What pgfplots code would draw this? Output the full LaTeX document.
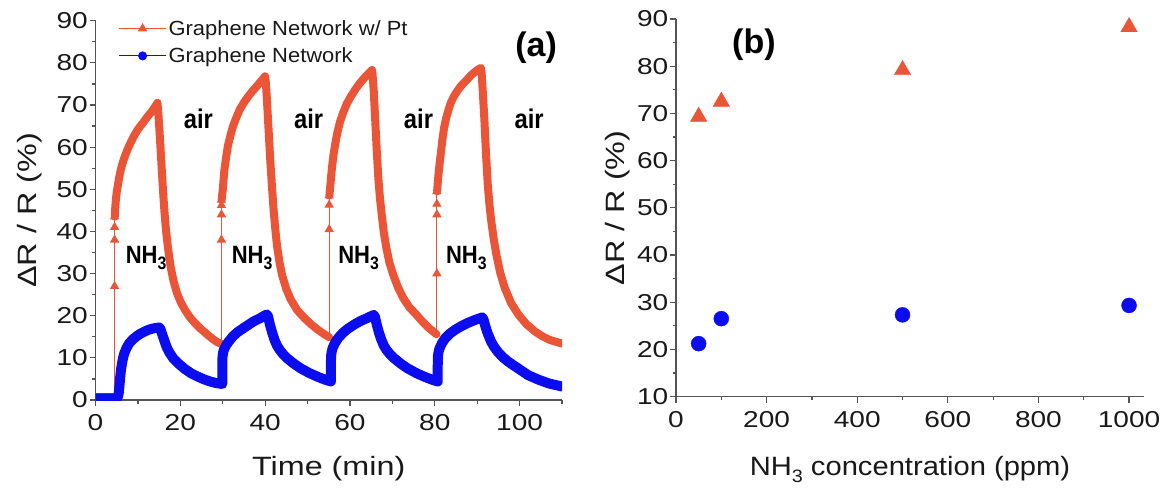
\documentclass[border=0pt]{standalone}
\usepackage{fontspec}
\setmainfont{Liberation Sans}[FakeStretch=1.22]
\newfontfamily\legfont{Liberation Sans}[FakeStretch=1.07]
\newfontfamily\labfont{Liberation Sans}[FakeStretch=0.88]
\newfontfamily\xlfont{Liberation Sans}[FakeStretch=1.1]
\newfontfamily\panfont{Liberation Sans}
\usepackage{graphicx}
\usepackage{pgfplots}
\pgfplotsset{compat=1.18}
\definecolor{redc}{RGB}{235,85,55}
\definecolor{bluec}{RGB}{12,12,240}
\definecolor{axc}{RGB}{85,85,85}
\definecolor{txc}{RGB}{25,25,25}
\newcommand{\nhsub}{NH\raisebox{-6pt}{\fontsize{18}{18}\selectfont 3}}

\pgfplotsset{
 mystyle/.style={
  scale only axis,
  axis lines=left,
  axis line style={-, axc, line width=1.3pt},
  tick style={axc, line width=1.2pt},
  major tick length=6pt,
  minor tick length=3.5pt,
  tick align=outside,
  tick label style={font=\fontsize{23}{23}\selectfont, text=txc, inner sep=1.5pt},
  xticklabel style={yshift=-7pt},
  /pgf/number format/assume math mode=true,
  /pgf/number format/1000 sep={},
  label style={font=\fontsize{26.5}{26.5}\selectfont, text=txc},
 }
}

\begin{document}
\begin{tikzpicture}
\path[use as bounding box] (0,0) rectangle (1164pt,490pt);

% ---------------- panel (a) ----------------
\begin{axis}[mystyle,
  at={(95.5pt,90pt)}, anchor=south west,
  width=466.5pt, height=379.3pt,
  xmin=0, xmax=110, ymin=0, ymax=90,
  xtick={0,20,...,100}, minor xtick={10,30,...,110},
  ytick={0,10,...,90}, minor ytick={5,15,...,85},
  xlabel={Time (min)},
  ylabel={ΔR / R (\%)},
  xlabel style={at={(axis description cs:0.5,0)}, anchor=base, yshift=-75pt},
  ylabel style={at={(axis description cs:-0.1275,0.5)}, anchor=base},
  legend style={at={(axis cs:5.4,90.6)}, anchor=north west, draw=none, fill=none,
    font=\legfont\fontsize{20.5}{20.5}\selectfont, text=txc, inner sep=0pt, row sep=7pt},
  legend cell align=left,
  legend image code/.code={\draw[mark repeat=2,mark phase=2,#1] plot coordinates {(0pt,0pt) (23.5pt,0pt) (47pt,0pt)};},
]
\addlegendimage{redc, line width=1pt, mark=triangle*, mark size=4.5pt}
\addlegendentry{Graphene Network w/ Pt}
\addlegendimage{bluec, line width=1pt, mark=*, mark size=4pt}
\addlegendentry{Graphene Network}

% red baseline
\addplot[redc, line width=2.5pt, forget plot] coordinates {(0,1.3) (4.5,1.3)};
% red jumps (thin line with triangle marks)
\addplot[redc, line width=0.9pt, mark=triangle*, mark size=4.5pt, mark indices={2,3,4,5}, forget plot]
  coordinates {(4.5,1.3) (4.5,27) (4.5,38) (4.5,41) (4.5,43.5)};
\addplot[redc, line width=0.9pt, mark=triangle*, mark size=4.5pt, mark indices={2,3,4,5}, forget plot]
  coordinates {(29.7,13.3) (29.7,38) (29.7,44) (29.7,46.2) (29.7,47.5)};
\addplot[redc, line width=0.9pt, mark=triangle*, mark size=4.5pt, mark indices={2,3,4}, forget plot]
  coordinates {(55.1,14.9) (55.1,40.5) (55.1,46.3) (55.1,48.5)};
\addplot[redc, line width=0.9pt, mark=triangle*, mark size=4.5pt, mark indices={2,3,4,5}, forget plot]
  coordinates {(80.5,15.6) (80.5,30) (80.5,44) (80.5,46.5) (80.5,49.5)};

% red thick cycles
\addplot[redc, line width=8pt, line join=round, line cap=round, forget plot] coordinates {
 (4.55,43.5) (4.65,45.5) (4.8,47.5) (5.0,49.3) (5.25,50.8) (5.6,52.9) (6.0,54.8) (6.5,56.6)
 (7.1,58.3) (7.7,59.8) (8.3,61.1) (9.0,62.5) (9.8,63.9) (10.5,64.9) (11.3,65.9) (12.0,66.9)
 (12.8,67.9) (13.5,68.8) (14.1,69.7) (14.6,70.5)
 (14.75,69) (14.95,66) (15.2,62) (15.55,56) (15.9,50) (16.25,44.8) (16.6,40.5) (17.1,36)
 (17.7,31.7) (18.4,28.2) (19.2,25.4) (20.1,23.2) (21.1,21.4) (22.2,19.7) (23.4,18.3)
 (24.8,16.9) (26.4,15.5) (27.5,14.6) (28.6,13.8) (29.7,13.3)};
\addplot[redc, line width=8pt, line join=round, line cap=round, forget plot] coordinates {
 (29.75,47.5) (29.85,48.5) (30.0,49.8) (30.2,52.3) (30.4,54.6) (30.8,57.6) (31.2,60.2)
 (31.8,62.7) (32.4,64.9) (33.2,67) (34.0,68.9) (35.0,70.6) (36.0,72.0) (37.0,73.3)
 (38.0,74.4) (38.8,75.4) (39.5,76.2) (40.0,76.8)
 (40.15,75.5) (40.35,72.5) (40.6,68) (40.9,62.5) (41.2,57) (41.6,50.8) (42.0,45) (42.4,40.5)
 (42.8,36.6) (43.4,32.6) (44.0,29.6) (45,26.3) (46.0,23.9) (47.5,21.4) (49.2,19.5)
 (50.8,18) (52.4,16.7) (53.8,15.7) (55.1,14.9)};
\addplot[redc, line width=8pt, line join=round, line cap=round, forget plot] coordinates {
 (55.15,48.5) (55.25,49.6) (55.4,51.2) (55.6,53.5) (55.8,55.5) (56.1,58) (56.5,60.6)
 (57.0,63.3) (57.6,65.8) (58.4,68.2) (59.2,70.2) (60.2,72) (61.2,73.6) (62.2,75)
 (63.2,76.2) (64.0,77.1) (64.7,77.8) (65.2,78.3)
 (65.35,77) (65.6,73.5) (65.9,67.5) (66.3,59.5) (66.7,52.5) (67.1,47.6) (67.5,43.9)
 (68.0,39.6) (68.6,36) (69.3,32.6) (70.2,29.7) (71.3,26.8) (72.5,24.3) (74,22)
 (75.7,20.2) (77,18.7) (78.6,17.1) (80.4,15.6)};
\addplot[redc, line width=8pt, line join=round, line cap=round, forget plot] coordinates {
 (80.55,49.5) (80.7,51.5) (80.85,53.2) (81.0,54.8) (81.2,56.6) (81.4,58.3) (81.8,61.8)
 (82.2,64.6) (82.7,67) (83.3,69.1) (83.9,70.8) (84.6,72.2) (85.3,73.3) (86,74.3)
 (86.8,75.2) (87.6,76) (88.5,77) (89.4,77.8) (90.2,78.4) (90.9,78.8)
 (91.05,77.5) (91.3,73.5) (91.7,66.5) (92.1,58) (92.5,51) (92.9,46.3) (93.3,42.6)
 (93.9,38.2) (94.5,34.6) (95.4,30.3) (96.5,26.6) (98,23) (99.7,20.3) (101.6,18)
 (103.7,16.2) (105.4,15.1) (107,14.3) (108.6,13.8) (110,13.4)};

% blue thick curve
\addplot[bluec, line width=10pt, line join=round, line cap=round, forget plot] coordinates {
 (0,0.4) (5.1,0.4) (5.3,0.8) (5.5,1.8) (5.7,4) (5.85,5.7) (6.0,7.1) (6.2,8.4) (6.4,9.5)
 (6.6,10.4) (6.8,11.1) (7.3,12.3) (7.9,13.4) (8.8,14.4) (9.8,15.2) (10.7,15.8) (11.7,16.3)
 (12.6,16.7) (13.5,16.95) (14.3,17.1) (15.0,17.2) (15.3,16.9) (15.7,15.7) (16.3,13.9)
 (16.8,12.5) (17.4,11.3) (18.4,9.8) (19.5,8.7) (21,7.4) (22.6,6.3) (24,5.6) (25.6,4.9)
 (27,4.4) (28.5,4.0) (29.9,3.8)
 (29.9,7.9) (29.95,10.3) (30.1,11.3) (30.3,12) (30.8,13) (31.5,14) (32.4,15.1) (33.5,16.1)
 (34.8,17) (36.0,17.8) (37.2,18.6) (38.8,19.4) (40.0,20.1) (40.4,20.3) (40.7,19.8)
 (41.1,18) (41.6,16.2) (42.2,14.3) (42.8,12.9) (43.5,11.8) (44.3,10.8) (45.2,9.9)
 (46.8,8.6) (48.4,7.5) (50.4,6.4) (52.4,5.5) (54.2,4.8) (55.5,4.4)
 (55.5,8.0) (55.55,10.5) (55.7,11.5) (55.9,12.3) (56.5,13.6) (57.3,14.8) (58.3,15.9)
 (59.5,16.9) (61,17.9) (62.6,18.8) (64.2,19.5) (65.6,20.2) (65.9,19.7) (66.3,18)
 (66.8,16.1) (67.4,14.3) (68,12.9) (68.6,11.9) (69.4,10.9) (70.4,9.9) (72,8.6) (73.6,7.5)
 (75.6,6.4) (77.6,5.5) (79.4,4.8) (80.7,4.4)
 (80.7,8.3) (80.75,10.5) (80.9,11.4) (81.1,12.2) (81.7,13.5) (82.5,14.7) (83.5,15.7)
 (84.7,16.6) (86.2,17.5) (87.8,18.3) (89.5,19) (91.2,19.6) (91.5,19.1) (91.9,17.6)
 (92.4,16) (93.3,13.8) (94,12.6) (94.8,11.5) (96,10.2) (97.3,9.1) (99.5,7.6) (102,5.9)
 (104.5,4.8) (107,3.9) (110,3.2)};

% annotations
\node[anchor=base west, text=black, font=\labfont\bfseries\fontsize{27}{27}\selectfont] at (axis cs:20.0,64.5) {air};
\node[anchor=base west, text=black, font=\labfont\bfseries\fontsize{27}{27}\selectfont] at (axis cs:46.0,64.5) {air};
\node[anchor=base west, text=black, font=\labfont\bfseries\fontsize{27}{27}\selectfont] at (axis cs:71.9,64.5) {air};
\node[anchor=base west, text=black, font=\labfont\bfseries\fontsize{27}{27}\selectfont] at (axis cs:98.0,64.5) {air};
\node[anchor=base west, text=black, inner sep=0pt, font=\labfont\bfseries\fontsize{25}{25}\selectfont] at (axis cs:7.1,32.5) {\nhsub};
\node[anchor=base west, text=black, inner sep=0pt, font=\labfont\bfseries\fontsize{25}{25}\selectfont] at (axis cs:32.1,32.5) {\nhsub};
\node[anchor=base west, text=black, inner sep=0pt, font=\labfont\bfseries\fontsize{25}{25}\selectfont] at (axis cs:57.2,32.5) {\nhsub};
\node[anchor=base west, text=black, inner sep=0pt, font=\labfont\bfseries\fontsize{25}{25}\selectfont] at (axis cs:82.6,32.5) {\nhsub};
\node[anchor=center, text=black, font=\panfont\bfseries\fontsize{34}{34}\selectfont] at (axis cs:103.9,83.7) {(a)};
\end{axis}

% ---------------- panel (b) ----------------
\begin{axis}[mystyle,
  at={(676pt,93.5pt)}, anchor=south west,
  width=468pt, height=377.5pt,
  xmin=0, xmax=1033, ymin=10, ymax=90,
  xtick={0,200,...,1000}, minor xtick={100,300,...,900},
  ytick={10,20,...,90}, minor ytick={15,25,...,85},
  xlabel={NH\raisebox{-7pt}{\fontsize{18}{18}\selectfont 3} concentration (ppm)},
  ylabel={ΔR / R (\%)},
  xlabel style={at={(axis description cs:0.5,0)}, anchor=base, yshift=-78.5pt,
    font=\xlfont\fontsize{26.5}{26.5}\selectfont},
  ylabel style={at={(axis description cs:-0.109,0.5)}, anchor=base},
]
\addplot[only marks, mark=triangle*, mark size=9.5pt, color=redc]
  coordinates {(50,69.3) (100,72.5) (500,79.2) (1000,88.3)};
\addplot[only marks, mark=*, mark size=7.5pt, color=bluec]
  coordinates {(50,21.2) (100,26.5) (500,27.3) (1000,29.3)};
\node[anchor=center, text=black, font=\panfont\bfseries\fontsize{34}{34}\selectfont] at (axis cs:172,84.5) {(b)};
\end{axis}
\end{tikzpicture}
\end{document}
